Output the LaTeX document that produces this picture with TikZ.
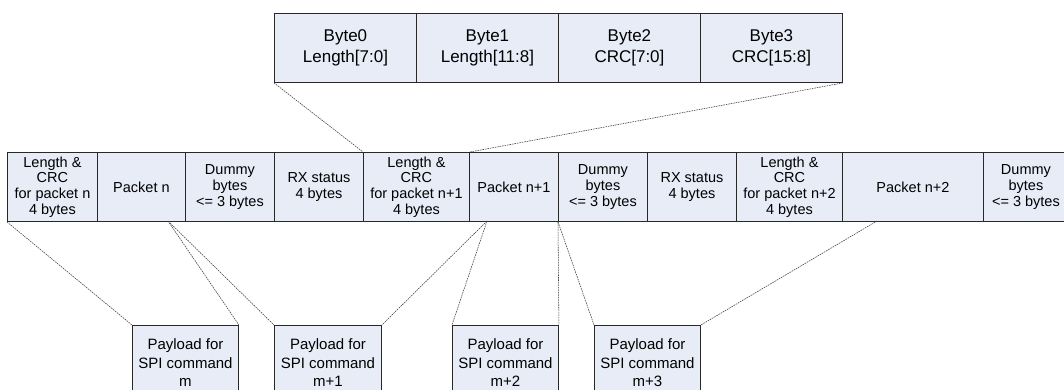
\documentclass[tikz,border=0pt]{standalone}
\usepackage{fontspec}
\setmainfont{Liberation Sans}
\definecolor{boxfill}{RGB}{231,236,247}
\definecolor{edge}{RGB}{40,40,40}
\definecolor{guide}{RGB}{60,60,60}
\tikzset{
  cellbase/.style={draw=edge, fill=boxfill, line width=0.9pt, anchor=north west,
    inner sep=0pt, align=center},
  bytecell/.style={cellbase, minimum height=69pt, font=\fontsize{17}{21.5}\selectfont},
  rowcell/.style={cellbase, minimum height=69pt, font=\fontsize{14.5}{15.7}\selectfont},
  paycell/.style={cellbase, minimum height=75pt, font=\fontsize{15}{18.5}\selectfont},
  guideline/.style={draw=guide, line width=0.55pt, dash pattern=on 1.6pt off 0.9pt},
}
\begin{document}
\begin{tikzpicture}[x=1pt, y=-1pt]
\clip (0,0) rectangle (1064,390);
\fill[white] (0,0) rectangle (1064,390);

% byte layout of the length/CRC word
\node[bytecell, minimum width=142pt] (b0) at (274,13) {Byte0\\Length[7:0]};
\node[bytecell, minimum width=142pt] (b1) at (416,13) {Byte1\\Length[11:8]};
\node[bytecell, minimum width=142pt] (b2) at (558,13) {Byte2\\CRC[7:0]};
\node[bytecell, minimum width=142pt] (b3) at (700,13) {Byte3\\CRC[15:8]};

% received stream
\node[rowcell, minimum width=90pt]  (r1)  at (7,152)   {Length \&\\CRC\\for packet n\\4 bytes};
\node[rowcell, minimum width=88pt]  (r2)  at (97,152)  {Packet n};
\node[rowcell, minimum width=89pt]  (r3)  at (185,152) {Dummy\\bytes\\<= 3 bytes};
\node[rowcell, minimum width=89pt]  (r4)  at (274,152) {RX status\\4 bytes};
\node[rowcell, minimum width=106pt] (r5)  at (363,152) {Length \&\\CRC\\for packet n+1\\4 bytes};
\node[rowcell, minimum width=89pt]  (r6)  at (469,152) {Packet n+1};
\node[rowcell, minimum width=89pt]  (r7)  at (558,152) {Dummy\\bytes\\<= 3 bytes};
\node[rowcell, minimum width=89pt]  (r8)  at (647,152) {RX status\\4 bytes};
\node[rowcell, minimum width=106pt] (r9)  at (736,152) {Length \&\\CRC\\for packet n+2\\4 bytes};
\node[rowcell, minimum width=141pt] (r10) at (842,152) {Packet n+2};
\node[rowcell, minimum width=85pt]  (r11) at (983,152) {Dummy\\bytes\\<= 3 bytes};

% SPI command payloads
\node[paycell, minimum width=106pt] (p0) at (132,325) {Payload for\\SPI command\\m};
\node[paycell, minimum width=107pt] (p1) at (274,325) {Payload for\\SPI command\\m+1};
\node[paycell, minimum width=106pt] (p2) at (452,325) {Payload for\\SPI command\\m+2};
\node[paycell, minimum width=106pt] (p3) at (594,325) {Payload for\\SPI command\\m+3};

% split points inside the packets
\coordinate (splitA) at (168,221);
\coordinate (splitB) at (487,221);
\coordinate (splitC) at (877,221);

% expansion of the length/CRC field
\draw[guideline] (b0.south west) -- (r5.north west);
\draw[guideline] (b3.south east) -- (r5.north east);

% payload spans
\draw[guideline] (r1.south west) -- (p0.north west);
\draw[guideline] (splitA) -- (p0.north east);
\draw[guideline] (splitA) -- (p1.north west);
\draw[guideline] (splitB) -- (p1.north east);
\draw[guideline] (splitB) -- (p2.north west);
\draw[guideline] (r7.south west) -- (p2.north east);
\draw[guideline] (r7.south west) -- (p3.north west);
\draw[guideline] (splitC) -- (p3.north east);
\end{tikzpicture}
\end{document}
